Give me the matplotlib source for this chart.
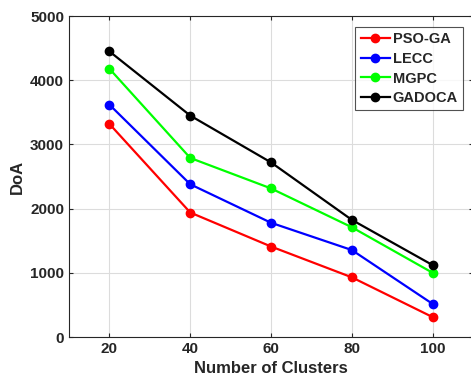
import numpy as np
import matplotlib.pyplot as plt

plt.rcParams['font.family'] = ['Liberation Sans', 'DejaVu Sans']
plt.rcParams['font.weight'] = 'bold'

# data
clusters = [20, 40, 60, 80, 100]
pso_ga = [3320, 1940, 1410, 930, 310]
lecc = [3620, 2380, 1780, 1355, 515]
mgpc = [4180, 2790, 2315, 1710, 1000]
gadoca = [4450, 3450, 2720, 1825, 1120]

series = [
    ("PSO-GA", pso_ga, '#ff0000'),
    ("LECC", lecc, '#0000ff'),
    ("MGPC", mgpc, '#00ff00'),
    ("GADOCA", gadoca, '#000000'),
]

fig = plt.figure(figsize=(4.71, 3.83), dpi=100)
ax = fig.add_axes([0.1465, 0.12, 0.858, 0.838])

for name, vals, col in series:
    ax.plot(clusters, vals, color=col, linewidth=1.6, marker='o',
            markersize=6, label=name)

ax.set_xlim(10, 110)
ax.set_ylim(0, 5000)
ax.set_xticks(clusters)
ax.set_yticks(np.arange(0, 5001, 1000))
ax.grid(True, color='#dcdcdc', linewidth=0.8)
ax.set_axisbelow(True)

for s in ax.spines.values():
    s.set_color('#262626')
    s.set_linewidth(0.8)
ax.tick_params(axis='both', direction='in', length=3, width=0.8,
               colors='#262626', labelsize=11, top=True, right=True)
for lbl in ax.get_xticklabels() + ax.get_yticklabels():
    lbl.set_fontweight('bold')

ax.set_xlabel("Number of Clusters", fontsize=12, fontweight='bold',
              color='#262626', labelpad=4)
ax.set_ylabel("DoA", fontsize=12, fontweight='bold', color='#262626',
              labelpad=4)

leg = ax.legend(loc='upper right', bbox_to_anchor=(0.975, 0.965),
                fontsize=10.5, frameon=True, fancybox=False,
                handlelength=2.0, handletextpad=0.2, borderpad=0.35,
                labelspacing=0.38, borderaxespad=0)
leg.get_frame().set_edgecolor('#262626')
leg.get_frame().set_linewidth(0.8)
for t in leg.get_texts():
    t.set_fontweight('bold')
    t.set_color('#262626')

fig.savefig('out.png', dpi=100)
